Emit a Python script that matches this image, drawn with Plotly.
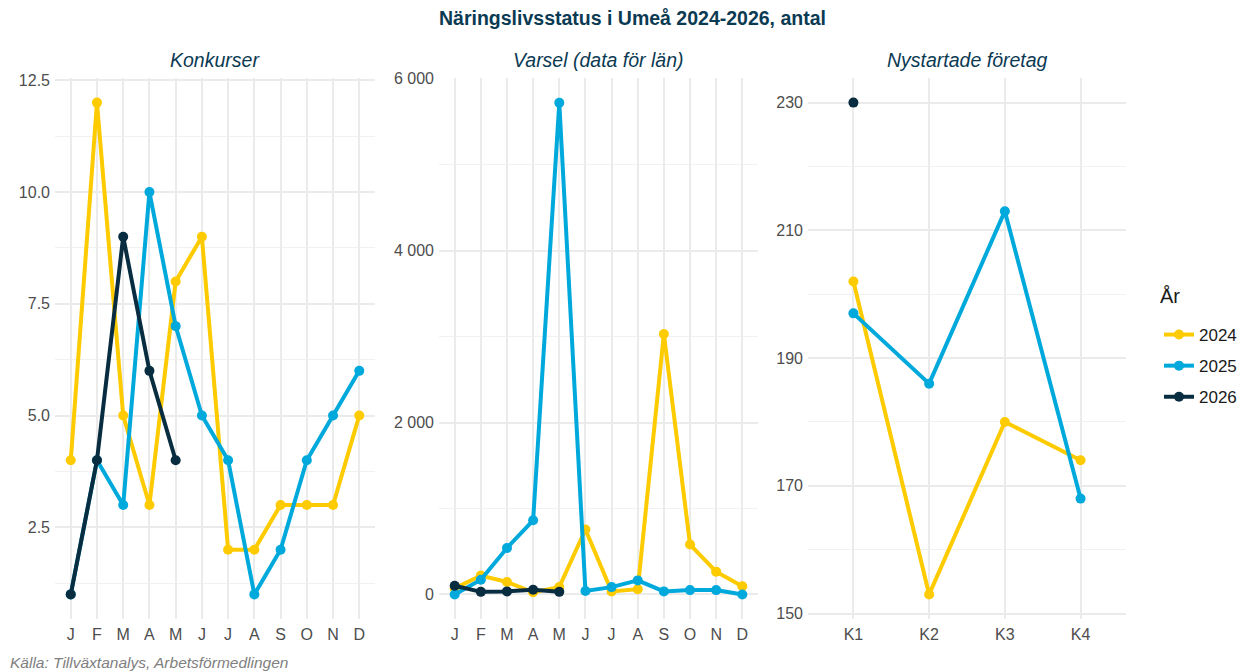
import plotly.graph_objects as go

# ---- data ----
months = ["jan", "feb", "mar", "apr", "maj", "jun", "jul", "aug", "sep", "okt", "nov", "dec"]
month_labels = ["J", "F", "M", "A", "M", "J", "J", "A", "S", "O", "N", "D"]
quarters = ["K1", "K2", "K3", "K4"]
years = ["2024", "2025", "2026"]

konkurser_2024 = [4, 12, 5, 3, 8, 9, 2, 2, 3, 3, 3, 5]
konkurser_2025 = [1, 4, 3, 10, 7, 5, 4, 1, 2, 4, 5, 6]
konkurser_2026 = [1, 4, 9, 6, 4]

varsel_2024 = [70, 220, 145, 25, 85, 755, 35, 60, 3030, 580, 265, 95]
varsel_2025 = [0, 170, 540, 862, 5720, 40, 85, 163, 35, 50, 50, 0]
varsel_2026 = [100, 30, 35, 55, 30]

nystartade_2024 = [202, 153, 180, 174]
nystartade_2025 = [197, 186, 213, 168]
nystartade_2026 = [230]

colors = {"2024": "#FDCB00", "2025": "#00A9DC", "2026": "#082C40"}
title_color = "#0B3A53"
FONT = "Liberation Sans, Arial"

W, H = 1246, 672
OFF = 8  # page body margin offset

fig = go.Figure()

panels = [
    ("x", "y", months, [konkurser_2024, konkurser_2025, konkurser_2026]),
    ("x2", "y2", months, [varsel_2024, varsel_2025, varsel_2026]),
    ("x3", "y3", quarters, [nystartade_2024, nystartade_2025, nystartade_2026]),
]
for pi, (xa, ya, cats, series) in enumerate(panels):
    for yr, vals in zip(years, series):
        fig.add_trace(go.Scatter(
            x=cats[:len(vals)], y=vals, mode="lines+markers",
            name=yr, legendgroup=yr, showlegend=(pi == 0),
            line=dict(color=colors[yr], width=4),
            marker=dict(color=colors[yr], size=10),
            xaxis=xa, yaxis=ya,
        ))


def px_x(p):
    return (p - OFF) / W


def px_y(p):
    return 1 - (p - OFF) / H


ydom = [px_y(619), px_y(78)]
grid = "#EBEBEB"
tickfont = dict(family=FONT, size=16, color="#4D4D4D")

common_x = dict(type="category", showgrid=True, gridcolor=grid, gridwidth=1.8,
                zeroline=False, showline=False, ticks="", tickfont=tickfont,
                automargin=False, fixedrange=True, ticklabelstandoff=4)
minor_grid = dict(showgrid=True, gridcolor="#F1F1F1", gridwidth=1.2)
common_y = dict(showgrid=True, gridcolor=grid, gridwidth=1.8, zeroline=False,
                showline=False, ticks="", tickfont=tickfont, automargin=False,
                domain=ydom, ticklabelstandoff=4)

fig.update_layout(
    xaxis=dict(common_x, domain=[px_x(55), px_x(375)], range=[-0.6, 11.6],
               categoryorder="array", categoryarray=months,
               tickvals=months, ticktext=month_labels, anchor="y"),
    yaxis=dict(common_y, range=[0.45, 12.55], tick0=2.5, dtick=2.5, tickformat=".1f",
               anchor="x", minor=dict(minor_grid, dtick=1.25, tick0=1.25)),
    xaxis2=dict(common_x, domain=[px_x(439), px_x(758)], range=[-0.6, 11.6],
                categoryorder="array", categoryarray=months,
                tickvals=months, ticktext=month_labels, anchor="y2"),
    yaxis2=dict(common_y, range=[-286, 6008], tick0=0, dtick=2000, tickformat=",d",
                anchor="x2", minor=dict(minor_grid, dtick=1000, tick0=0)),
    xaxis3=dict(common_x, domain=[px_x(808), px_x(1126)], range=[-0.6, 3.6],
                categoryorder="array", categoryarray=quarters, anchor="y3"),
    yaxis3=dict(common_y, range=[149.15, 233.85], tick0=150, dtick=20,
                anchor="x3", minor=dict(minor_grid, dtick=10, tick0=150)),
)

annotations = [
    dict(text="<b>Näringslivsstatus i Umeå 2024-2026, antal</b>", x=px_x(632), y=px_y(18),
         xref="paper", yref="paper", xanchor="center", yanchor="middle", showarrow=False,
         font=dict(family=FONT, size=19.5, color=title_color)),
    dict(text="<i>Källa: Tillväxtanalys, Arbetsförmedlingen</i>", x=0, y=px_y(662),
         xref="paper", yref="paper", xanchor="left", yanchor="middle", showarrow=False,
         font=dict(family=FONT, size=15.5, color="#808080")),
    dict(text="År", x=px_x(1158), y=px_y(296),
         xref="paper", yref="paper", xanchor="left", yanchor="middle", showarrow=False,
         font=dict(family=FONT, size=20, color="#1A1A1A")),
]
for name, (l, r) in zip(["Konkurser", "Varsel (data för län)", "Nystartade företag"],
                        [(55, 375), (439, 758), (808, 1126)]):
    annotations.append(dict(text=f"<i>{name}</i>", x=px_x((l + r) / 2), y=px_y(60),
                            xref="paper", yref="paper", xanchor="center", yanchor="middle",
                            showarrow=False,
                            font=dict(family=FONT, size=19.5, color=title_color)))

fig.update_layout(
    width=W, height=H, autosize=False,
    margin=dict(l=0, r=0, t=0, b=0),
    paper_bgcolor="white", plot_bgcolor="white",
    separators=". ",
    annotations=annotations,
    legend=dict(x=px_x(1159), y=px_y(317), xanchor="left", yanchor="top",
                font=dict(family=FONT, size=17, color="#1A1A1A"),
                tracegroupgap=6, itemwidth=30, bgcolor="rgba(0,0,0,0)"),
    hovermode=False,
)

fig.write_html("out.html")
